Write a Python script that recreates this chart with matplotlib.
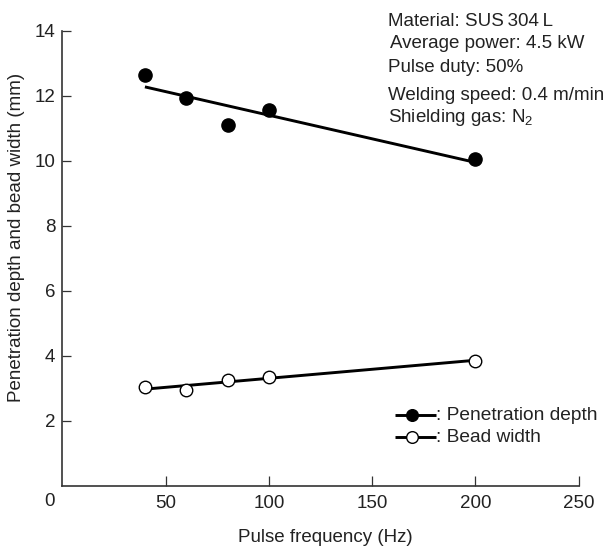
import numpy as np
import matplotlib
matplotlib.use("Agg")
import matplotlib.pyplot as plt
from matplotlib.lines import Line2D

plt.rcParams['font.family'] = ['Liberation Sans', 'DejaVu Sans']
plt.rcParams['mathtext.fontset'] = 'custom'
plt.rcParams['mathtext.rm'] = 'Liberation Sans'
plt.rcParams['mathtext.it'] = 'Liberation Sans'

# Data
freq = [40, 60, 80, 100, 200]
penetration = [12.65, 11.94, 11.10, 11.56, 10.04]
bead_width = [3.03, 2.94, 3.25, 3.34, 3.85]
x_ticks = [50, 100, 150, 200, 250]
y_ticks = [2, 4, 6, 8, 10, 12, 14]
series_names = [': Penetration depth', ': Bead width']
conditions = ["Material: SUS\u2009304\u2009L", "Average power: 4.5 kW", "Pulse duty: 50%",
              "Welding speed: 0.4 m/min", r"Shielding gas: N$_2$"]

W, H = 615, 548
TXT = '#222222'
fig = plt.figure(figsize=(W / 100, H / 100), dpi=100)
ax = fig.add_axes([62.3 / W, 1 - 485.7 / H, (578.7 - 62.3) / W, (485.7 - 30.7) / H])

ax.set_xlim(0, 250)
ax.set_ylim(0, 14)

fx = np.array(freq, dtype=float)
lo, hi = fx.min(), fx.max()
faces = ['black', 'white']
for ys, face in zip([penetration, bead_width], faces):
    p = np.polyfit(fx, ys, 1)
    xl = np.array([lo, hi])
    ax.plot(xl, np.polyval(p, xl), color='black', lw=2.1, zorder=2, solid_capstyle='butt')
    ax.plot(fx, ys, 'o', ms=9.5 if face == 'black' else 9, mfc=face, mec='black', mew=1.0,
            ls='none', zorder=3)

for s in ['top', 'right']:
    ax.spines[s].set_visible(False)
for s in ['left', 'bottom']:
    ax.spines[s].set_linewidth(1.2)
    ax.spines[s].set_color('#333333')

ax.set_xticks(x_ticks)
ax.set_yticks(y_ticks)
ax.tick_params(axis='x', direction='in', length=7, width=0.9, colors='#333333',
               labelcolor=TXT, labelsize=13.5, pad=7)
ax.tick_params(axis='y', direction='in', length=6.5, width=0.9, colors='#333333',
               labelcolor=TXT, labelsize=13.5, pad=5)

ax.annotate('0', xy=(0, 0), xycoords='data', xytext=(-13, -16), textcoords='offset pixels',
            ha='center', va='center', fontsize=13.5, color=TXT)

ax.set_xlabel('Pulse frequency (Hz)', fontsize=13.5, color=TXT)
ax.xaxis.set_label_coords((325 - 62.3) / (578.7 - 62.3), (485.7 - 538) / (485.7 - 30.7))
ax.xaxis.label.set_va('center')
ax.set_ylabel('Penetration depth and bead width (mm)', fontsize=13.5, color=TXT)
ax.yaxis.set_label_coords((17 - 62.3) / (578.7 - 62.3), (485.7 - 237.5) / (485.7 - 30.7))
ax.yaxis.label.set_va('center')

# Legend drawn manually (pixel positions)
def px(x, y):
    return x / W, 1 - y / H

rows_y = [415, 437]
for name, face, yp in zip(series_names, faces, rows_y):
    x0, y0 = px(395, yp)
    x1, _ = px(436, yp)
    xm, _ = px(412, yp)
    fig.add_artist(Line2D([x0, x1], [y0, y0], color='black', lw=2.1, transform=fig.transFigure,
                          solid_capstyle='butt'))
    fig.add_artist(Line2D([xm], [y0], marker='o', ms=8.4, mfc=face, mec='black', mew=1.0,
                          ls='none', transform=fig.transFigure))
    tx, ty = px(436, yp)
    fig.text(tx, ty, name, ha='left', va='center', fontsize=13.8, color=TXT)

ys_px = [22, 44, 68, 95, 118]
xs_px = [388, 390, 388, 388, 388]
for t, xp, yp in zip(conditions, xs_px, ys_px):
    fig.text(xp / W, 1 - yp / H, t, ha='left', va='center', fontsize=13.5, color=TXT)

fig.savefig('out.png', dpi=100)
